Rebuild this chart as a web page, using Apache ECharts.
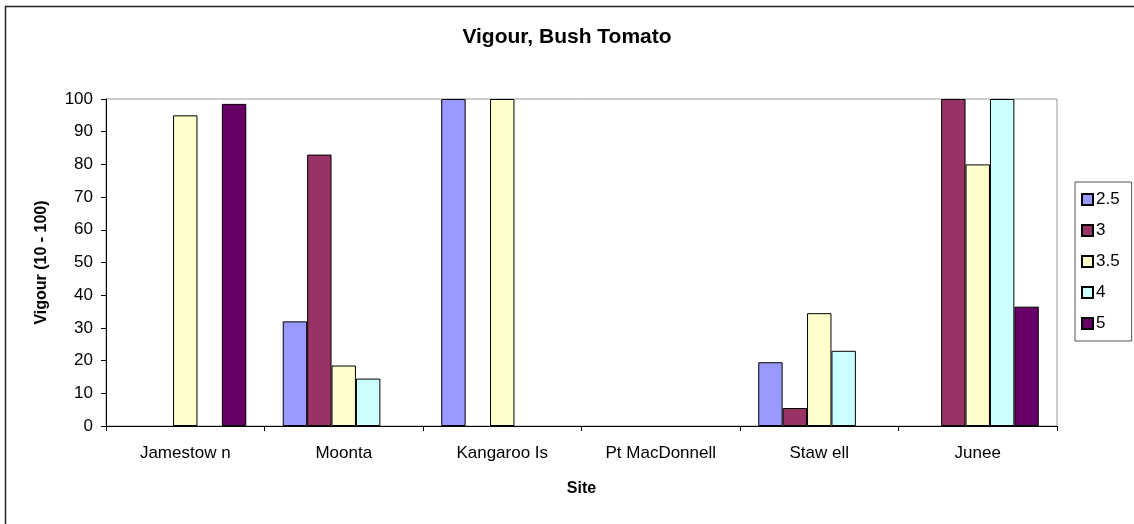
<!DOCTYPE html>
<html>
<head>
<meta charset="utf-8">
<script src="https://cdn.jsdelivr.net/npm/echarts@6/dist/echarts.min.js"></script>
<style>
  html, body { margin: 0; padding: 0; background: #fff; }
  #chart { width: 1134px; height: 524px; }
</style>
</head>
<body>
<div id="chart"></div>
<script>
// Sites along the x axis
const sites = ['Jamestow n', 'Moonta', 'Kangaroo Is', 'Pt MacDonnell', 'Staw ell', 'Junee'];

// Vigour scores per treatment level (null = no plants recorded)
const level25 = [null, 32, 100, null, 19.5, null];
const level3  = [null, 83, null, null, 5.5, 100];
const level35 = [95, 18.5, 100, null, 34.5, 80];
const level4  = [null, 14.5, null, null, 23, 100];
const level5  = [98.5, null, null, null, null, 36.5];

const seriesNames = ['2.5', '3', '3.5', '4', '5'];
const seriesValues = [level25, level3, level35, level4, level5];
const seriesColors = ['#9999FF', '#993366', '#FFFFCC', '#CCFFFF', '#660066'];

// Vigour scale
const yMin = 0, yMax = 100, yStep = 10;

const FONT = '"Liberation Sans", Arial, sans-serif';

const chart = echarts.init(document.getElementById('chart'), null, { renderer: 'canvas' });

chart.setOption({
  animation: false,
  backgroundColor: '#ffffff',
  textStyle: { fontFamily: FONT, color: '#000' },
  title: {
    text: 'Vigour, Bush Tomato',
    left: 'center',
    top: 22,
    textStyle: { fontFamily: FONT, fontSize: 21, fontWeight: 'bold', color: '#000' }
  },
  graphic: [{
    type: 'rect',
    shape: { x: 5.5, y: 6.5, width: 1200, height: 600 },
    style: { fill: 'none', stroke: '#222', lineWidth: 1.5 },
    silent: true
  }],
  legend: {
    orient: 'vertical',
    left: 1075,
    top: 182,
    padding: [9, 12, 9, 6],
    itemGap: 14,
    itemWidth: 11,
    itemHeight: 11,
    icon: 'rect',
    borderColor: '#555',
    borderWidth: 1,
    textStyle: { fontFamily: FONT, fontSize: 17, lineHeight: 17, color: '#000', padding: [0, 0, 0, -2] },
    data: seriesNames
  },
  grid: {
    left: 106,
    top: 99,
    right: 77,
    bottom: 98,
    show: true,
    borderColor: '#999',
    borderWidth: 1,
    containLabel: false
  },
  xAxis: {
    type: 'category',
    data: sites,
    name: 'Site',
    nameLocation: 'middle',
    nameGap: 55,
    nameTextStyle: { fontFamily: FONT, fontSize: 16, fontWeight: 'bold', color: '#000' },
    axisLine: { show: true, lineStyle: { color: '#000', width: 1 } },
    axisTick: { show: true, length: 5, inside: false, lineStyle: { color: '#000' } },
    axisLabel: { fontFamily: FONT, fontSize: 17, color: '#000', margin: 19, interval: 0 },
    splitLine: { show: false }
  },
  yAxis: {
    type: 'value',
    min: yMin,
    max: yMax,
    interval: yStep,
    name: 'Vigour (10 - 100)',
    nameLocation: 'middle',
    nameGap: 56,
    nameRotate: 90,
    nameTextStyle: { fontFamily: FONT, fontSize: 16, fontWeight: 'bold', color: '#000' },
    axisLine: { show: true, lineStyle: { color: '#000', width: 1 } },
    axisTick: { show: true, length: 5, inside: false, lineStyle: { color: '#000' } },
    axisLabel: { fontFamily: FONT, fontSize: 17, color: '#000', margin: 13 },
    splitLine: { show: false }
  },
  series: seriesNames.map((name, i) => ({
    name: name,
    type: 'bar',
    data: seriesValues[i],
    barGap: '0%',
    barCategoryGap: '23%',
    itemStyle: { color: seriesColors[i], borderColor: '#000', borderWidth: 1 },
    emphasis: { disabled: true }
  }))
});
</script>
</body>
</html>
